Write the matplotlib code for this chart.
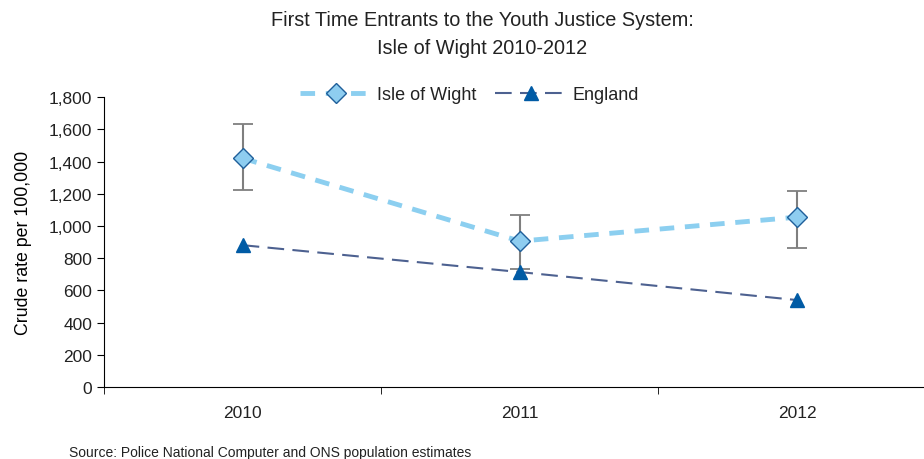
import numpy as np
import matplotlib.pyplot as plt

plt.rcParams['font.family'] = ['Liberation Sans', 'DejaVu Sans']
plt.rcParams['text.color'] = '#222222'

# Crude rate per 100,000 of first time entrants
years = ['2010', '2011', '2012']
iow_rate = [1421, 906, 1055]
iow_upper = [1632, 1068, 1217]
iow_lower = [1223, 732, 863]
england_rate = [881, 714, 540]

x = np.arange(len(years))
iow_err = [np.array(iow_rate) - np.array(iow_lower),
           np.array(iow_upper) - np.array(iow_rate)]

fig = plt.figure(figsize=(9.24, 4.6), dpi=100)
ax = fig.add_axes([0.1126, 0.1565, 0.9, 0.630])

ax.errorbar(x, iow_rate, yerr=iow_err, fmt='none', ecolor='#7f7f7f',
            elinewidth=1.5, capsize=7, capthick=1.3, zorder=2)
ax.plot(x, iow_rate, color='#8ccff0', linewidth=3.5, linestyle=(0, (3, 2.2)),
        marker='D', markersize=10, markerfacecolor='#8ecdf0',
        markeredgecolor='#1f5f9a', markeredgewidth=1.0,
        label='Isle of Wight', zorder=3)
ax.plot(x, england_rate, color='#4d6190', linewidth=1.5, linestyle=(0, (8, 4)),
        marker='^', markersize=10.5, markerfacecolor='#005ba5',
        markeredgecolor='#005ba5', label='England', zorder=3)

ax.set_xlim(-0.5, 2.5)
ax.set_ylim(0, 1800)
ax.set_yticks(np.arange(0, 1801, 200))
ax.set_yticklabels([f'{v:,}' for v in range(0, 1801, 200)], fontsize=12.5, color='#222222')
ax.set_xticks(x)
ax.set_xticklabels(years, fontsize=12.5, color='#222222')
ax.set_xticks([-0.5, 0.5, 1.5], minor=True)
ax.tick_params(axis='x', which='major', length=0, pad=13)
ax.tick_params(axis='x', which='minor', length=5, direction='out')
ax.tick_params(axis='y', length=5, direction='out')
ax.spines['top'].set_visible(False)
ax.spines['right'].set_visible(False)
ax.set_ylabel('Crude rate per 100,000', fontsize=12.8, labelpad=12)

fig.text(0.522, 0.975, 'First Time Entrants to the Youth Justice System:\nIsle of Wight 2010-2012',
         ha='center', va='top', fontsize=14.3, linespacing=1.55)
fig.legend(loc='center', bbox_to_anchor=(0.508, 0.792), ncol=2, frameon=False,
           fontsize=13, handlelength=4.0, columnspacing=1.0, handletextpad=0.3)
fig.text(0.075, 0.0, 'Source: Police National Computer and ONS population estimates',
         fontsize=10, ha='left', va='bottom')

fig.savefig('out.png', dpi=100)
